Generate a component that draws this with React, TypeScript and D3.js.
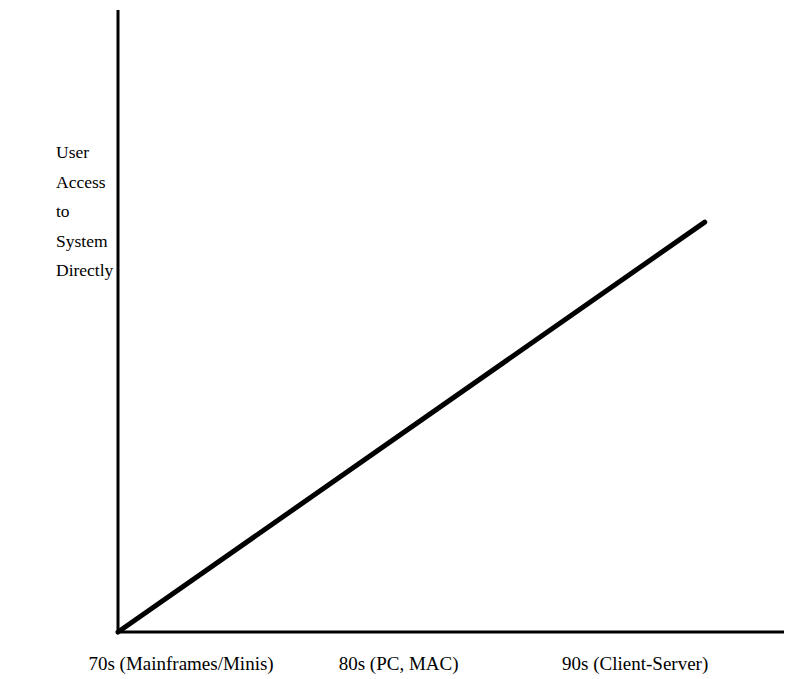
import React from "react";
import * as d3 from "d3";

const categories = ["70s (Mainframes/Minis)", "80s (PC, MAC)", "90s (Client-Server)"];
const categoryPos = [0.228, 0.502, 0.8];
const yLabelLines = ["User", "Access", "to", "System", "Directly"];
const trendProgress = [0, 0.881];
const trendAccess = [0, 0.659];

const W = 794;
const H = 679;
const M = { left: 118, right: 10, top: 10, bottom: 47 };

export default function App() {
  const x = d3.scaleLinear().domain([0, 1]).range([M.left, W - M.right]);
  const y = d3.scaleLinear().domain([0, 1]).range([H - M.bottom, M.top]);
  const pts = trendProgress.map((p, i) => [x(p), y(trendAccess[i])] as [number, number]);
  const line = d3.line()(pts) || "";
  const font = "'Liberation Serif', 'Times New Roman', serif";
  const xl = d3.scaleLinear().domain([0, 1]).range([0, W]);
  return (
    <svg width={W} height={H} style={{ position: "absolute", left: 0, top: 0, background: "#fff" }}>
      <line x1={x(0)} x2={x(0)} y1={y(0) + 1} y2={y(1)} stroke="#000" strokeWidth={3} />
      <line x1={x(0) - 1} x2={x(1)} y1={y(0)} y2={y(0)} stroke="#000" strokeWidth={3} />
      <path d={line} stroke="#000" strokeWidth={5} fill="none" strokeLinecap="round" />
      {yLabelLines.map((t, i) => (
        <text key={t} x={56} y={158 + i * 29.5} fontFamily={font} fontSize={17.5} fill="#000">
          {t}
        </text>
      ))}
      {categories.map((c, i) => (
        <text key={c} x={xl(categoryPos[i])} y={670} textAnchor="middle" fontFamily={font} fontSize={19} fill="#000">
          {c}
        </text>
      ))}
    </svg>
  );
}
